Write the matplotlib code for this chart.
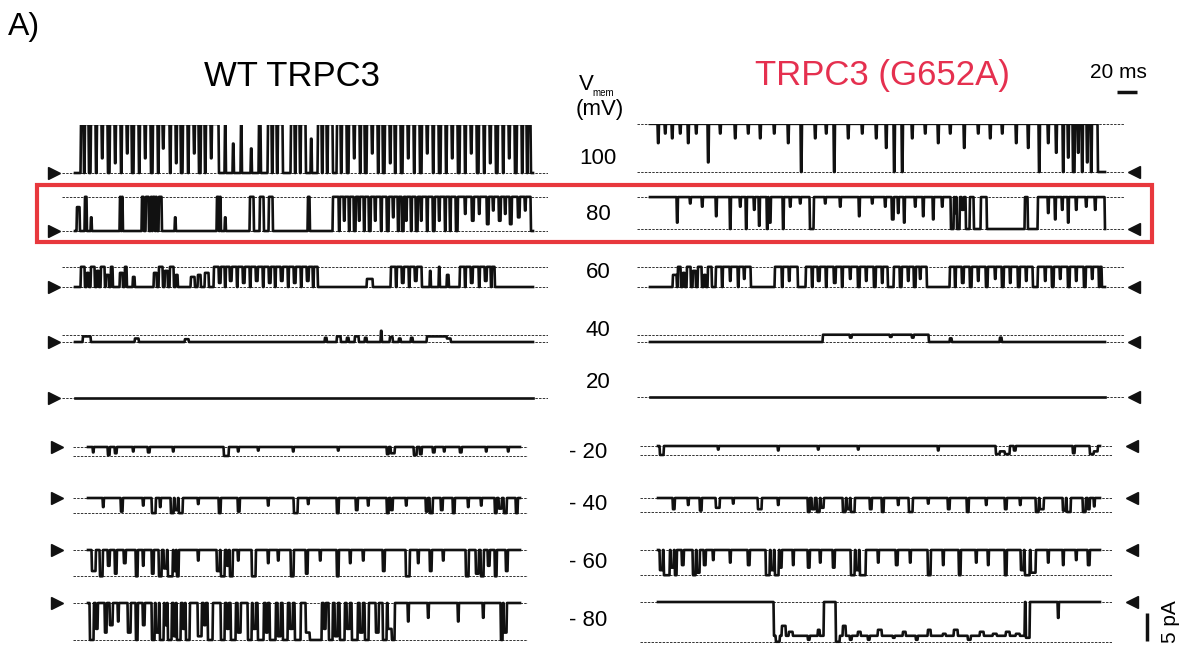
import numpy as np
import matplotlib.pyplot as plt
from matplotlib.patches import Rectangle

plt.rcParams['font.family'] = ['Liberation Sans', 'DejaVu Sans']

# ---- data -------------------------------------------------------------
voltages = [100, 80, 60, 40, 20, -20, -40, -60, -80]
v_labels = ['100', '80', '60', '40', '20', '- 20', '- 40', '- 60', '- 80']

# unitary current amplitude (pA) of each sweep
amp_wt = [8.75, 6.1, 3.6, 1.25, 0.0, -1.6, -2.7, -4.7, -6.6]
amp_mut = [8.6, 5.7, 3.6, 1.3, 0.0, -1.6, -2.5, -4.5, -7.1]

# sweep duration (ms)
dur_wt = [458, 458, 458, 458, 458, 432, 432, 432, 432]
dur_mut = [455, 455, 455, 455, 455, 442, 442, 442, 442]

# channel events: (start ms, end ms[, fraction of unitary level])
# later entries override earlier ones
wt_100 = [(6, 144), (9, 10, 0), (14, 16, 0), (21, 22, 0), (27, 28, 0.3), (33, 35, 0), (40, 41, 0.2),
          (46, 47, 0), (52, 53, 0.4), (57, 59, 0), (64, 65, 0), (70, 71, 0.3), (76, 78, 0), (83, 84, 0),
          (88, 89, 0.5), (95, 96, 0), (101, 102, 0.2), (106, 108, 0), (113, 114, 0), (119, 120, 0.4),
          (124, 126, 0), (130, 131, 0), (136, 137, 0.3),
          (150, 151), (158, 159, 0.6), (166, 167), (176, 177, 0.5), (184, 186),
          (193, 208), (197, 198, 0), (202, 203, 0), (216, 231), (220, 221, 0), (225, 226, 0),
          (236, 237, 0.7), (243, 258), (247, 248, 0), (252, 253, 0),
          (262, 456), (266, 267, 0), (272, 274, 0), (279, 280, 0.3), (285, 286, 0), (290, 292, 0),
          (297, 298, 0.4), (303, 304, 0), (308, 310, 0), (315, 316, 0.2), (320, 321, 0), (326, 328, 0),
          (333, 334, 0.3), (339, 340, 0), (345, 347, 0), (352, 353, 0.4), (358, 359, 0), (364, 366, 0),
          (371, 372, 0), (377, 378, 0.3), (383, 385, 0), (390, 391, 0), (396, 397, 0.4), (402, 404, 0),
          (409, 410, 0), (415, 416, 0.2), (421, 423, 0), (428, 429, 0), (434, 435, 0.3), (440, 442, 0),
          (447, 448, 0), (452, 453, 0)]
wt_80 = [(2, 5, 0.7), (10, 12), (16, 17, 0.4), (45, 46), (47, 48), (67, 69), (71, 74), (76, 77),
         (78, 80), (81, 82), (84, 87), (100, 101, 0.4), (142, 144), (145, 146), (150, 151, 0.4),
         (175, 179), (185, 189), (194, 198), (233, 235),
         (258, 381), (264, 265, 0), (269, 270, 0.3), (274, 275, 0), (279, 281, 0), (284, 285, 0.3),
         (289, 290, 0), (294, 296, 0), (300, 301, 0.3), (306, 307, 0), (312, 314, 0), (318, 319, 0.4),
         (323, 324, 0), (327, 329, 0), (331, 332, 0.3), (336, 337, 0), (341, 343, 0), (346, 347, 0.3),
         (352, 353, 0), (358, 360, 0), (364, 365, 0.3), (370, 371, 0), (375, 376, 0),
         (383, 456), (390, 391, 0.5), (397, 399, 0.3), (404, 405, 0.5), (412, 414, 0.2), (418, 419, 0.6),
         (424, 426, 0.3), (430, 431, 0.5), (435, 437, 0.2), (443, 445, 0.4), (450, 451, 0.6)]
wt_60 = [(6, 10), (12, 14, 0.7), (16, 20), (22, 24, 0.8), (26, 30), (31, 34, 0.6), (36, 38),
         (45, 48, 0.7), (50, 52), (58, 60, 0.5), (79, 82, 0.7), (84, 88), (90, 93, 0.8), (95, 99),
         (101, 103, 0.6), (116, 120, 0.5), (123, 126, 0.6), (130, 134, 0.7),
         (139, 243), (144, 146, 0.2), (150, 151, 0), (155, 157, 0.3), (162, 163, 0), (168, 170, 0.2),
         (175, 176, 0), (181, 183, 0.3), (188, 189, 0), (194, 196, 0.2), (200, 201, 0), (206, 208, 0.3),
         (213, 214, 0), (219, 221, 0.2), (226, 227, 0), (232, 234, 0.3), (238, 239, 0),
         (292, 298, 0.4), (316, 347), (321, 322, 0), (327, 329, 0.2), (334, 335, 0), (340, 342, 0.3),
         (355, 356, 0.8), (364, 365), (372, 374, 0.6),
         (385, 420), (390, 391, 0), (396, 398, 0.2), (404, 405, 0), (410, 412, 0.3), (416, 417, 0)]
wt_40 = [(8, 16, 0.8), (60, 64, 0.5), (110, 114, 0.4), (250, 252, 0.6), (262, 266, 0.8),
         (272, 274, 0.6), (280, 284, 0.8), (290, 292, 0.6), (306, 307, 1.6), (315, 318, 0.7),
         (324, 326, 0.5), (336, 338, 0.6), (352, 372, 0.8), (372, 376, 0.5)]
wt_20 = []
wt_m20 = [(5, 6, 0.6), (20, 22, 0.9), (27, 29, 0.7), (45, 46, 0.5), (60, 62, 0.6), (85, 86, 0.5),
          (136, 141), (150, 151, 0.5), (170, 171, 0.4), (205, 206, 0.5), (250, 251, 0.4),
          (299, 301, 0.8), (303, 307, 0.7), (326, 329, 0.9), (332, 334, 0.8), (345, 347, 0.6),
          (356, 357, 0.5), (372, 374, 0.6), (398, 399, 0.5), (420, 421, 0.5)]
wt_m40 = [(15, 16, 0.6), (33, 35, 0.9), (55, 56, 0.5), (64, 68), (72, 73, 0.6), (83, 86), (87, 90, 0.8),
          (91, 95), (110, 111, 0.4), (131, 133), (150, 152, 0.9), (180, 181, 0.5), (206, 210),
          (220, 221, 0.4), (249, 251), (268, 270, 0.8), (280, 281, 0.5), (299, 301), (303, 305, 0.8),
          (318, 319, 0.5), (338, 340, 0.9), (342, 345), (353, 355, 0.8), (365, 367), (380, 381, 0.6),
          (393, 394, 0.5), (407, 409), (411, 414, 0.7), (416, 419), (428, 430)]
wt_m60 = [(4, 8, 0.8), (12, 15), (20, 22, 0.6), (27, 29, 0.9), (36, 38, 0.5), (48, 50), (55, 56, 0.6),
          (64, 66, 0.9), (71, 74), (76, 79, 0.7), (80, 85), (86, 88, 0.8), (89, 91), (110, 111, 0.4),
          (129, 132, 0.8), (133, 137), (139, 141, 0.6), (142, 145), (150, 151, 0.4), (164, 168),
          (180, 181, 0.5), (190, 191, 0.4), (203, 206), (218, 220, 0.9), (232, 233, 0.4), (249, 251),
          (262, 263, 0.5), (275, 276, 0.4), (295, 297, 0.8), (318, 322), (330, 331, 0.5),
          (342, 344, 0.8), (355, 356, 0.4), (378, 381), (388, 391, 0.9), (393, 396), (400, 402, 0.6),
          (407, 409), (418, 420, 0.8)]
wt_m80 = [(2, 6), (8, 10, 0.7), (17, 19, 0.8), (22, 25, 0.6), (30, 31, 0.5), (40, 43, 0.8), (48, 50),
          (55, 57, 0.6), (64, 67), (68, 71, 0.8), (72, 76), (77, 79, 0.6), (80, 84), (86, 88, 0.9),
          (89, 93), (95, 97, 0.7), (98, 102), (110, 114, 0.9), (116, 118, 0.6), (120, 125), (133, 137),
          (139, 141, 0.7), (143, 148), (150, 153, 0.8), (160, 164), (165, 168, 0.7), (170, 176),
          (178, 180, 0.8), (182, 188), (190, 193, 0.9), (195, 200), (202, 205, 0.7), (207, 213),
          (218, 222, 0.8), (222, 234), (236, 238, 0.7), (241, 245), (247, 250, 0.9), (252, 257),
          (259, 262, 0.7), (264, 270), (272, 275, 0.8), (277, 281), (288, 291, 0.8), (295, 299),
          (300, 304, 0.7), (304, 307), (320, 321, 0.5), (340, 341, 0.4), (370, 371, 0.5),
          (395, 396, 0.4), (413, 415), (416, 419, 0.8)]

mut_100 = [(0, 448), (8, 9, 0.6), (15, 16, 0.8), (22, 23, 0.7), (30, 31, 0.8), (38, 39, 0.6),
           (46, 47, 0.8), (58, 59, 0.2), (70, 71, 0.8), (85, 86, 0.7), (98, 99, 0.8), (110, 111, 0.7),
           (124, 125, 0.8), (138, 139, 0.6), (151, 152, 0), (165, 166, 0.7), (176, 177, 0.8),
           (184, 185, 0), (198, 199, 0.7), (212, 213, 0.8), (226, 227, 0.7), (236, 237, 0.5),
           (244, 245, 0), (252, 253, 0), (262, 263, 0.7), (275, 276, 0.8), (288, 289, 0.6),
           (300, 301, 0.8), (314, 315, 0.5), (328, 329, 0.8), (340, 341, 0.7), (352, 353, 0.8),
           (366, 367, 0.6), (378, 379, 0.5), (389, 390, 0), (398, 399, 0.6), (406, 407, 0.4),
           (413, 414, 0), (418, 419, 0.3), (423, 425, 0), (428, 429, 0.4), (432, 433, 0),
           (437, 438, 0.2), (441, 442, 0)]
mut_80 = [(0, 455), (27, 28, 0.2), (40, 41, 0.8), (52, 53, 0.7), (66, 67, 0.4), (80, 81, 0),
          (90, 91, 0.7), (96, 97, 0), (104, 105, 0.6), (109, 110, 0.1), (117, 118, 0), (119, 121, 0.2),
          (133, 134, 0), (140, 141, 0.7), (150, 151, 0.8), (160, 164, 0), (175, 176, 0.8),
          (190, 191, 0.7), (209, 210, 0.4), (222, 223, 0.8), (235, 236, 0.7), (242, 244, 0.3),
          (248, 249, 0.5), (254, 255, 0.2), (265, 266, 0.7), (273, 274, 0.4), (283, 284, 0.3),
          (292, 293, 0.7), (301, 304, 0), (305, 306, 0.5), (307, 310, 0), (312, 314, 0.6),
          (316, 320, 0), (324, 331, 0), (337, 375, 0), (378, 388, 0), (398, 399, 0.5), (405, 406, 0.3),
          (412, 413, 0.6), (418, 419, 0.2), (426, 427, 0.6), (436, 437, 0.7), (445, 446, 0.6)]
mut_60 = [(23, 27, 0.6), (28, 31), (33, 35, 0.7), (37, 41), (43, 46, 0.8), (48, 52), (54, 56, 0.6),
          (58, 62), (66, 101), (72, 73, 0), (80, 81, 0.3), (88, 89, 0), (94, 95, 0.4),
          (125, 148), (132, 133, 0), (139, 140, 0.3),
          (156, 238), (162, 163, 0), (168, 170, 0.3), (176, 177, 0), (184, 186, 0.2), (192, 193, 0),
          (200, 201, 0.4), (208, 210, 0), (216, 217, 0.3), (224, 226, 0), (232, 233, 0.2),
          (244, 277), (250, 252, 0), (258, 259, 0.3), (264, 266, 0), (270, 271, 0.4),
          (300, 383), (305, 306, 0), (312, 314, 0.2), (320, 322, 0), (328, 329, 0.3), (336, 338, 0),
          (345, 346, 0.4), (352, 354, 0), (360, 361, 0.2), (368, 370, 0), (376, 377, 0.3),
          (388, 452), (395, 396, 0.3), (402, 404, 0), (410, 411, 0.4), (418, 420, 0), (426, 427, 0.3),
          (434, 436, 0), (442, 443, 0.4), (449, 450, 0)]
mut_40 = [(173, 279), (200, 202, 0.6), (240, 242, 0.7), (262, 264, 0.6), (300, 302, 0.5), (350, 352, 0.6)]
mut_20 = []
mut_m20 = [(2, 6), (60, 61, 0.4), (120, 121, 0.5), (160, 161, 0.4), (200, 201, 0.4), (280, 281, 0.5),
           (338, 342, 0.9), (342, 347, 0.6), (347, 352, 0.9), (356, 358, 0.5), (415, 417, 0.8),
           (432, 436, 0.9), (436, 440, 0.6)]
mut_m40 = [(15, 17, 0.8), (30, 31, 0.5), (42, 44, 0.9), (58, 62, 0.7), (75, 76, 0.4), (100, 104, 0.8),
           (120, 121, 0.5), (150, 152), (154, 157, 0.8), (159, 162), (163, 166, 0.7), (185, 188),
           (189, 192, 0.8), (193, 197), (212, 214, 0.8), (224, 226), (240, 241, 0.5), (251, 255),
           (270, 271, 0.4), (290, 292, 0.8), (309, 311), (328, 329, 0.5), (347, 349, 0.8),
           (362, 363, 0.5), (378, 381), (382, 386, 0.8), (405, 408, 0.9), (409, 413), (425, 428),
           (430, 432, 0.8), (436, 437, 0.6)]
mut_m60 = [(2, 5, 0.8), (6, 12), (13, 16, 0.7), (17, 19), (24, 26, 0.6), (35, 38), (39, 42, 0.9),
           (46, 48, 0.6), (55, 56, 0.4), (72, 73, 0.5), (90, 92, 0.6), (108, 112), (113, 116, 0.8),
           (117, 121), (122, 124, 0.7), (135, 136, 0.6), (150, 152, 0.7), (162, 163, 0.5),
           (175, 177, 0.7), (193, 197), (198, 201, 0.8), (202, 208), (220, 221, 0.5), (238, 240, 0.6),
           (252, 253, 0.5), (270, 273), (285, 286, 0.6), (301, 303), (318, 319, 0.5), (330, 331, 0.6),
           (347, 349), (363, 366, 0.8), (367, 372), (373, 378, 0.9), (390, 391, 0.5), (405, 406, 0.6),
           (418, 419, 0.4), (430, 432, 0.6)]
mut_m80 = [(116, 166, 0.85), (118, 122), (124, 128, 0.6), (131, 135, 0.75), (150, 152, 0.95),
           (160, 162, 0.7), (178, 367, 0.85), (178, 182), (185, 188, 0.6), (192, 194, 0.95),
           (200, 203, 0.75), (210, 212, 0.95), (220, 224, 0.7), (235, 237, 0.9), (245, 248, 0.75),
           (258, 260, 0.95), (270, 273, 0.7), (285, 288, 0.8), (296, 300, 0.7), (310, 313, 0.95),
           (322, 326, 0.75), (335, 339, 0.8), (348, 352, 0.75), (358, 362, 0.8), (368, 372, 0.9),
           (400, 401, 0.4)]

wt_events = [wt_100, wt_80, wt_60, wt_40, wt_20, wt_m20, wt_m40, wt_m60, wt_m80]
mut_events = [mut_100, mut_80, mut_60, mut_40, mut_20, mut_m20, mut_m40, mut_m60, mut_m80]

scale_ms = 20
scale_pa = 5

# ---- layout (pixels) ----------------------------------------------------
W, H = 1189, 651
PX_MS = 1.0
PX_PA = 5.6
HALF = 48

closed_y_wt = [173, 231, 287, 342, 398, 447, 498, 550, 603]
closed_y_mut = [172, 229, 287, 342, 397, 446, 498, 550, 602]
label_y = [158, 215, 272, 330, 383, 452, 505, 562, 620]
# dashed-line extent, trace start and arrow centre; upper (>0 mV) and lower (<0 mV) rows
wt_geom = {'up': (62, 548, 75, 54), 'low': (73, 528, 88, 57)}
mut_geom = {'up': (637, 1125, 650, 1134), 'low': (640, 1112, 658, 1132)}

fig = plt.figure(figsize=(W / 100, H / 100), dpi=100)


def build(events, dur, dt=0.5):
    t = np.arange(0, dur + dt, dt)
    lev = np.zeros_like(t)
    for ev in events:
        v = ev[2] if len(ev) > 2 else 1.0
        lev[(t >= ev[0]) & (t < ev[1])] = v
    return t, lev


def trace_axes(geom, yc):
    x0, x1, xt, xa = geom
    ax = fig.add_axes([x0 / W, 1 - (yc + HALF) / H, (x1 - x0) / W, 2 * HALF / H])
    ax.set_xlim(-(xt - x0) / PX_MS, (x1 - xt) / PX_MS)
    ax.set_ylim(-HALF / PX_PA, HALF / PX_PA)
    ax.axis('off')
    ax.patch.set_visible(False)
    return ax, (xa - xt) / PX_MS


axes_mut = []
for i, v in enumerate(voltages):
    key = 'up' if v > 0 else 'low'
    for events, amps, durs, ys, geom, mk, store in [
            (wt_events, amp_wt, dur_wt, closed_y_wt, wt_geom, '>', None),
            (mut_events, amp_mut, dur_mut, closed_y_mut, mut_geom, '<', axes_mut)]:
        ax, xa = trace_axes(geom[key], ys[i])
        dash = dict(color='#333333', lw=0.7, ls=(0, (2.5, 1.3)), zorder=1)
        ax.axhline(0, **dash)
        if amps[i] != 0:
            ax.axhline(amps[i], **dash)
        t, lev = build(events[i], durs[i])
        ax.plot(t, lev * amps[i], color='#111111', lw=1.9, zorder=3)
        ax.plot([xa], [0], marker=mk, ms=9, color='#111111', clip_on=False)
        if store is not None:
            store.append(ax)

# voltage labels
for lab, y in zip(v_labels, label_y):
    xc = 598 if not lab.startswith('-') else 588
    fig.text(xc / W, 1 - y / H, lab, ha='center', va='center', fontsize=16)

fig.text(586 / W, 1 - 84 / H, 'V', ha='center', va='center', fontsize=16)
fig.text(603 / W, 1 - 93 / H, 'mem', ha='center', va='center', fontsize=7)
fig.text(600 / W, 1 - 110 / H, '(mV)', ha='center', va='center', fontsize=16)

fig.text(8 / W, 1 - 27 / H, 'A)', ha='left', va='center', fontsize=23)
fig.text(292 / W, 1 - 76 / H, 'WT TRPC3', ha='center', va='center', fontsize=25)
fig.text(882 / W, 1 - 76 / H, 'TRPC3 (G652A)', ha='center', va='center', fontsize=25,
         color='#e5304f')

# scale bars, drawn in the data units of the G652A traces
ax_top = axes_mut[0]
ax_top.plot([467, 467 + scale_ms], [14.3, 14.3], color='#111111', lw=2.5,
            solid_capstyle='butt', clip_on=False)
fig.text(1118 / W, 1 - 73 / H, '%d ms' % scale_ms, ha='center', va='center', fontsize=15)
ax_bot = axes_mut[-1]
ax_bot.plot([489, 489], [-2.0, -2.0 - scale_pa], color='#111111', lw=2.5,
            solid_capstyle='butt', clip_on=False)
fig.text(1170 / W, 1 - 622 / H, '%d pA' % scale_pa, ha='center', va='center', fontsize=15,
         rotation=90)

# highlight box around the 80 mV sweeps
fig.add_artist(Rectangle((37 / W, 1 - 242 / H), (1152 - 37) / W, (242 - 185) / H,
                         transform=fig.transFigure, fill=False, ec='#e8383d', lw=3))

fig.savefig('out.png', dpi=100)
